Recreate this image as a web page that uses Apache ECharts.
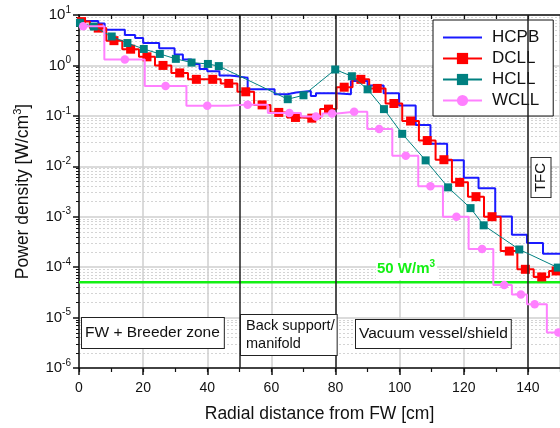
<!DOCTYPE html>
<html><head><meta charset="utf-8">
<script src="https://cdn.jsdelivr.net/npm/echarts@6/dist/echarts.min.js"></script>
<style>html,body{margin:0;padding:0;background:#fff}#c{width:560px;height:428px}</style>
</head><body><div id="c"></div>
<script>
// ---------- data ----------
const seriesNames = ['HCPB', 'DCLL', 'HCLL', 'WCLL'];

// HCPB: step histogram (bin edges in cm, value per bin in W/cm3)
const hcpbEdges = [0, 6, 8, 14.3, 17.5, 20, 25, 29.8, 32.4, 35.1, 37.6, 40, 43.8, 47, 50, 52.6, 61, 65, 67.7, 72.3, 73.9, 80, 84.8, 90, 95, 99.8, 105, 109.6, 114.8, 120, 124.6, 129.8, 135, 139.7, 144.7, 150];
const hcpbValues = [7.6, 6.8, 5.1, 4.0, 3.5, 2.8, 2.2, 1.65, 1.31, 1.07, 0.85, 0.77, 0.63, 0.6, 0.57, 0.336, 0.268, 0.29, 0.31, 0.248, 0.28, 0.268, 0.49, 0.4, 0.28, 0.16, 0.066, 0.028, 0.0131, 0.0059, 0.00365, 0.00101, 0.00044, 0.0003, 0.000185];

// DCLL: step histogram with square markers
const dcllEdges = [0, 3.4, 8.5, 13.5, 18.7, 23.7, 28.8, 34.0, 39.2, 44.2, 49.4, 54.6, 59.7, 64.9, 70.1, 75.2, 80.3, 85.3, 90.5, 95.6, 100.8, 106.0, 111.2, 116.3, 121.3, 126.3, 131.5, 136.7, 141.8, 146.6, 150];
const dcllValues = [7.4, 5.5, 3.1, 2.1, 1.48, 1.0, 0.71, 0.53, 0.53, 0.44, 0.30, 0.165, 0.117, 0.093, 0.090, 0.136, 0.37, 0.53, 0.35, 0.176, 0.079, 0.0324, 0.0135, 0.0048, 0.0025, 0.00100, 0.000208, 0.0000906, 0.000064, 0.000084];
const dcllMarkX = [0.8, 6.0, 10.9, 16.1, 21.2, 26.2, 31.4, 36.6, 41.7, 46.7, 52.0, 57.1, 62.3, 67.5, 72.6, 77.8, 82.7, 87.9, 93.0, 98.2, 103.4, 108.6, 113.8, 118.7, 123.8, 128.8, 134.2, 139.2, 144.3, 148.8];

// HCLL: points joined by straight lines
const hcllX = [0.3, 4.6, 10.2, 15.1, 20.2, 25.2, 30.2, 35.1, 40.2, 43.6, 65.1, 70.0, 79.9, 85.1, 90.0, 95.1, 100.8, 108.1, 115.1, 122.1, 126.2, 137.3, 149.3];
const hcllY = [7.0, 5.9, 3.75, 2.78, 2.12, 1.69, 1.35, 1.14, 1.07, 0.97, 0.214, 0.256, 0.83, 0.61, 0.336, 0.136, 0.044, 0.0131, 0.00382, 0.00148, 0.000675, 0.000224, 0.000098];

// WCLL: step histogram with circle markers
const wcllEdges = [0, 7.9, 20.5, 33.5, 46.4, 58.9, 69.2, 75.9, 80.6, 89.9, 97.7, 105.8, 113.5, 121.5, 129.2, 135.0, 139.7, 145.9, 150];
const wcllValues = [6.0, 1.31, 0.39, 0.158, 0.167, 0.1135, 0.097, 0.111, 0.121, 0.055, 0.0162, 0.00404, 0.000995, 0.000228, 0.0000443, 0.0000288, 0.0000183, 0.00000505];
const wcllMarkX = [1.3, 14.3, 27.0, 40.0, 52.6, 65.6, 73.9, 78.9, 85.8, 93.6, 101.9, 109.6, 117.7, 125.7, 132.6, 137.8, 142.1, 149.5];

// zone boundaries and limit line (50 W/m3 = 5e-5 W/cm3)
const zoneLinesX = [50, 80, 140];
const limitValue = 5e-5;

// axes
const xRange = [0, 150];
const yRange = [1e-6, 10];
const yDecades = [-6, -5, -4, -3, -2, -1, 0];
const yMinorMult = [2, 3, 4, 5, 6, 7, 8, 9];

// ---------- build ----------
const FONT = 'Liberation Sans, Arial, Helvetica, sans-serif';
const GREEN = '#14f014';
const yMinor = [];
yDecades.forEach(e => yMinorMult.forEach(m => yMinor.push(m * Math.pow(10, e))));

function stepData(edges, values, marks) {
  const out = [];
  for (let i = 0; i < values.length; i++) {
    out.push({ value: [edges[i], values[i]], symbol: 'none' });
    if (marks) out.push({ value: [marks[i], values[i]] });
    out.push({ value: [edges[i + 1], values[i]], symbol: 'none' });
  }
  return out;
}

const AX = '#111';
const chart = echarts.init(document.getElementById('c'), null, { renderer: 'canvas' });
chart.setOption({
  animation: false,
  textStyle: { fontFamily: FONT },
  grid: { left: 79, top: 15, width: 482.5, height: 356, containLabel: false },
  legend: {
    orient: 'vertical', left: 433, top: 20,
    data: [{ name: 'HCPB', itemStyle: { opacity: 0 } }, 'DCLL', 'HCLL', 'WCLL'],
    itemWidth: 39, itemHeight: 14, itemGap: 4,
    padding: [9, 14, 7, 9],
    backgroundColor: '#fff', borderColor: '#111', borderWidth: 1,
    selectedMode: false,
    textStyle: { fontSize: 17, color: '#111', fontFamily: FONT, padding: [0, 0, 0, 5] }
  },
  xAxis: [
    {
      type: 'value', min: xRange[0], max: xRange[1], interval: 20, position: 'bottom',
      axisLine: { show: true, onZero: false, lineStyle: { color: AX, width: 1.5 } },
      axisTick: { show: true, length: 7, lineStyle: { color: AX, width: 1.5 } },
      axisLabel: { fontSize: 14, color: '#111', margin: 13, showMaxLabel: false, fontFamily: FONT },
      splitLine: { show: true, lineStyle: { color: '#cfcfcf', width: 1.5 } },
      name: 'Radial distance from FW [cm]', nameLocation: 'middle', nameGap: 37,
      nameTextStyle: { fontSize: 17.5, color: '#111', fontFamily: FONT }
    },
    {
      type: 'value', min: xRange[0], max: xRange[1], interval: 10, position: 'bottom',
      axisLine: { show: false }, axisLabel: { show: false }, splitLine: { show: false },
      axisTick: { show: true, length: 4, lineStyle: { color: AX, width: 1.2 } }
    },
    {
      type: 'value', min: xRange[0], max: xRange[1], interval: 10, position: 'top',
      axisLine: { show: true, onZero: false, lineStyle: { color: AX, width: 1.5 } },
      axisLabel: { show: false }, splitLine: { show: false },
      axisTick: { show: true, inside: true, length: 4, lineStyle: { color: AX, width: 1.2 } }
    }
  ],
  yAxis: [
    {
      type: 'log', logBase: 10, min: yRange[0], max: yRange[1], splitNumber: 7, position: 'left',
      axisLine: { show: true, onZero: false, lineStyle: { color: AX, width: 1.5 } },
      axisTick: { show: true, length: 6, lineStyle: { color: AX, width: 1.5 } },
      axisLabel: {
        margin: 8,
        formatter: v => '{b|10}{s|' + Math.round(Math.log10(v)) + '}',
        rich: {
          b: { fontSize: 15, color: '#111', lineHeight: 20, fontFamily: FONT },
          s: { fontSize: 10, color: '#111', verticalAlign: 'top', lineHeight: 10, fontFamily: FONT }
        }
      },
      splitLine: { show: true, lineStyle: { color: '#cfcfcf', width: 1.5 } },
      name: 'Power density [W/cm{s|3}]', nameLocation: 'middle', nameGap: 43,
      nameTextStyle: {
        fontSize: 17.5, color: '#111', fontFamily: FONT, lineHeight: 22,
        rich: { s: { fontSize: 11, color: '#111', verticalAlign: 'top', lineHeight: 11, fontFamily: FONT } }
      }
    },
    {
      type: 'log', logBase: 10, min: yRange[0], max: yRange[1], position: 'left',
      axisLine: { show: false }, axisLabel: { show: false },
      axisTick: { show: true, length: 3, customValues: yMinor, lineStyle: { color: AX, width: 1 } },
      splitLine: { show: true, lineStyle: { color: '#d4d4d4', width: 1, type: [2, 2] } }
    }
  ],
  series: [
    {
      name: 'limit', type: 'line', xAxisIndex: 0, yAxisIndex: 0,
      data: [[xRange[0], limitValue], [xRange[1], limitValue]],
      symbol: 'none', color: GREEN, silent: true,
      lineStyle: { color: GREEN, width: 2.5 }, z: 2,
      markLine: {
        silent: true, symbol: ['none', 'none'], animation: false,
        label: { show: false },
        data: zoneLinesX.map(x => ({ xAxis: x, lineStyle: { color: '#222', width: 1.5, type: 'solid' } }))
      }
    },
    {
      name: 'HCPB', type: 'line', xAxisIndex: 0, yAxisIndex: 0,
      data: stepData(hcpbEdges, hcpbValues, null),
      symbol: 'none', color: '#1a1aff',
      lineStyle: { color: '#1a1aff', width: 2 }, z: 3
    },
    {
      name: 'DCLL', type: 'line', xAxisIndex: 0, yAxisIndex: 0,
      data: stepData(dcllEdges, dcllValues, dcllMarkX),
      symbol: 'rect', symbolSize: 9, showAllSymbol: true, color: '#ff0000',
      itemStyle: { color: '#ff0000' }, lineStyle: { color: '#ff0000', width: 2 }, z: 4
    },
    {
      name: 'HCLL', type: 'line', xAxisIndex: 0, yAxisIndex: 0,
      data: hcllX.map((x, i) => [x, hcllY[i]]),
      symbol: 'rect', symbolSize: 8, showAllSymbol: true, color: '#008080',
      itemStyle: { color: '#008080' }, lineStyle: { color: '#008080', width: 1 }, z: 5
    },
    {
      name: 'WCLL', type: 'line', xAxisIndex: 0, yAxisIndex: 0,
      data: stepData(wcllEdges, wcllValues, wcllMarkX),
      symbol: 'circle', symbolSize: 8.5, showAllSymbol: true, color: '#ff80ff',
      itemStyle: { color: '#ff80ff' }, lineStyle: { color: '#ff80ff', width: 2 }, z: 6
    }
  ],
  graphic: [
    {
      type: 'text', x: 82, y: 318, z: 100,
      style: { text: 'FW + Breeder zone', fontSize: 15.5, fontFamily: FONT, fill: '#111',
        backgroundColor: '#fff', borderColor: '#222', borderWidth: 1, padding: [6, 4, 6, 3], lineHeight: 18,
        align: 'left', verticalAlign: 'top' }
    },
    {
      type: 'text', x: 241, y: 315, z: 100,
      style: { text: 'Back support/\nmanifold', fontSize: 14.5, fontFamily: FONT, fill: '#111',
        backgroundColor: '#fff', borderColor: '#222', borderWidth: 1, padding: [2, 2, 2, 5], lineHeight: 18,
        align: 'left', verticalAlign: 'top' }
    },
    {
      type: 'text', x: 356, y: 320, z: 100,
      style: { text: 'Vacuum vessel/shield', fontSize: 15.5, fontFamily: FONT, fill: '#111',
        backgroundColor: '#fff', borderColor: '#222', borderWidth: 1, padding: [5, 3, 5, 3], lineHeight: 18,
        align: 'left', verticalAlign: 'top' }
    },
    {
      type: 'text', x: 541, y: 177.5, z: 100, rotation: Math.PI / 2,
      style: { text: 'TFC', fontSize: 15, fontFamily: FONT, fill: '#111',
        backgroundColor: '#fff', borderColor: '#222', borderWidth: 1, padding: [2, 5, 2, 5], lineHeight: 15,
        align: 'center', verticalAlign: 'middle' }
    },
    {
      type: 'text', x: 376, y: 269, z: 100,
      style: {
        text: '{a|50 W/m}{s|3}', backgroundColor: '#fff', padding: [1, 2, 1, 1],
        align: 'left', verticalAlign: 'middle',
        rich: {
          a: { fontSize: 15, fontWeight: 'bold', fontFamily: FONT, fill: GREEN, lineHeight: 20 },
          s: { fontSize: 10, fontWeight: 'bold', fontFamily: FONT, fill: GREEN, verticalAlign: 'top', lineHeight: 10 }
        }
      }
    }
  ]
});
</script>
</body></html>
